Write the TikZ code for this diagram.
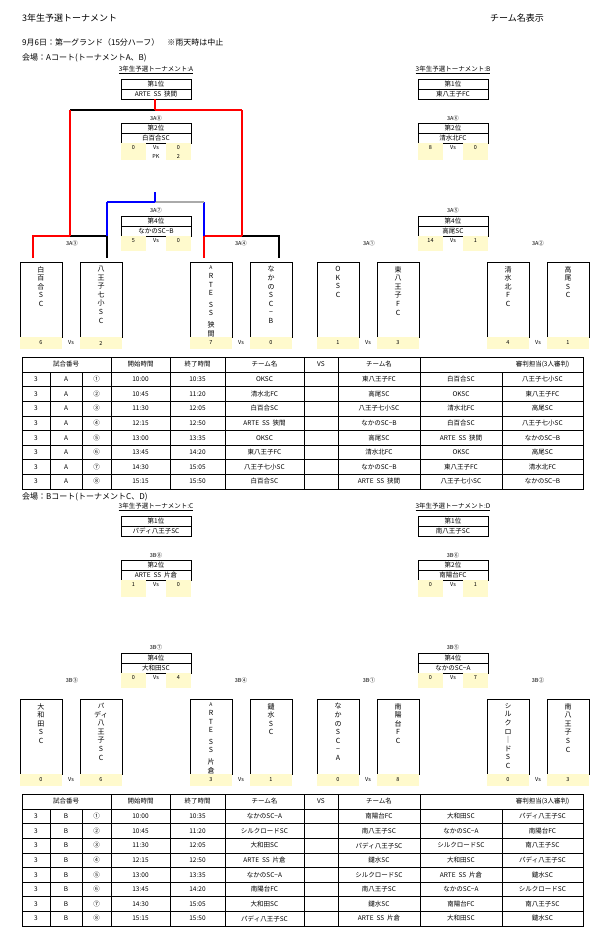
\documentclass[tikz,border=0pt]{standalone}
\usepackage{fontspec}
\setmainfont{Noto Sans CJK JP}
\definecolor{cream}{RGB}{255,250,205}
\definecolor{midgray}{RGB}{170,170,170}
\tikzset{
  wire/.style={line width=2.6pt},
  box/.style={draw, line width=0.6pt},
  txt/.style={font=\fontsize{6.5}{7}\selectfont, inner sep=0pt},
  small/.style={font=\fontsize{5.5}{6}\selectfont, inner sep=0pt},
  vname/.style={font=\fontsize{7}{8.6}\selectfont, align=center, anchor=north, inner sep=0pt},
  head/.style={font=\fontsize{8}{9}\selectfont, anchor=west, inner sep=0pt}
}
% bracket lines: r1a r1b r2a r2b topL topR 3rdL 3rdR
\newcommand\wires[8]{%
  \draw[wire,#1] (33,258) -- (33,236) -- (70,236);
  \draw[wire,#2] (70,236) -- (107,236) -- (107,258);
  \draw[wire,#3] (204,258) -- (204,236) -- (242,236);
  \draw[wire,#4] (242,236) -- (279,236) -- (279,258);
  \draw[wire,blue] (107,236) -- (107,202);
  \draw[wire,blue] (204,236) -- (204,202);
  \draw[wire,#7] (107,202) -- (155,202);
  \draw[wire,#8] (155,202) -- (204,202);
  \draw[wire,blue] (155,192) -- (155,202);
  \draw[wire,#5] (70,110) -- (155,110);
  \draw[wire,#6] (155,110) -- (242,110);
  \draw[wire,red] (70,236) -- (70,110);
  \draw[wire,red] (242,236) -- (242,110);
  \draw[wire,red] (155,99) -- (155,110);
}
\newcommand\rankbox[4]{%
  \draw[box] (121,#2) rectangle (191,#2+20);
  \draw[line width=0.6pt] (121,#2+10) -- (191,#2+10);
  \node[txt] (#1-h) at (156,#2+5) {#3};
  \node[txt] (#1) at (156,#2+15) {#4};
}
\newcommand\cells[5]{%
  \fill[cream] (121,#1) rectangle (146,#1+#2);
  \fill[cream] (166,#1) rectangle (191,#1+#2);
  \node[small] (sl#1) at (133.5,#1+4.5) {#3};
  \node[small] (vs#1) at (156,#1+4.5) {Vs};
  \node[small] (sr#1) at (178.5,#1+4.5) {#4};
}
% title, 1st, 2nd, 2nd scores, 3rd, 4th, 4th scores
\newcommand\ranks[9]{%
  \node[txt] (title) at (156,70) {\underline{#1}};
  \rankbox{r1}{79}{第1位}{#2}
  \rankbox{r2}{123}{第2位}{#3}
  \cells{143}{17}{#4}{#5}
  \rankbox{r3}{172}{第3位}{#6}
  \rankbox{r4}{216}{第4位}{#7}
  \cells{236}{15}{#8}{#9}
}
\newcommand\labels[4]{%
  \node[small] (lt) at (156,118) {#1};
  \node[small] (l3) at (156,210) {#2};
  \node[small] (l1) at (72,243) {#3};
  \node[small] (l2) at (241,243) {#4};
}
\newcommand\team[4]{%
  \draw[box] (#2,262) rectangle (#2+42,337);
  \node[vname] (#1) at (#2+21,266) {#3};
  \fill[cream] (#2,337) rectangle (#2+42,349);
  \node[small] (#1-s) at (#2+21,343) {#4};
}
\newcommand\teams[8]{%
  \team{t1}{20}{#1}{#5}
  \team{t2}{80}{#2}{#6}
  \team{t3}{190}{#3}{#7}
  \team{t4}{250}{#4}{#8}
  \node[small] (vsa) at (71,343) {Vs};
  \node[small] (vsb) at (241,343) {Vs};
}
\newcommand\artes[1]{\fontsize{5}{6.4}\selectfont A\\R\\T\\E\\[3pt]S\\S\\[3pt]\fontsize{7}{8.6}\selectfont #1}
% match table
\newcommand\schedule[2]{%
  \draw[line width=0.7pt] (22,357) rectangle (583,489);
  \foreach \x in {111,170,225,304,338,420}
    \draw[line width=0.6pt] (\x,357) -- (\x,489);
  \foreach \x in {50,82,502}
    \draw[line width=0.6pt] (\x,372) -- (\x,489);
  \foreach \r in {0,...,7}
    \draw[line width=0.6pt] (22,372+14.6*\r) -- (583,372+14.6*\r);
  \node[txt] (h1) at (66,364.5) {試合番号};
  \node[txt] (h2) at (140.5,364.5) {開始時間};
  \node[txt] (h3) at (197.5,364.5) {終了時間};
  \node[txt] (h4) at (264.5,364.5) {チーム名};
  \node[txt] (h5) at (321,364.5) {VS};
  \node[txt] (h6) at (379,364.5) {チーム名};
  \node[txt] (h7) at (542.5,364.5) {審判担当(3人審判)};
  \foreach \no/\st/\en/\ta/\tb/\ra/\rb [count=\i] in {#2} {
    \pgfmathsetmacro\yy{372+14.6*(\i-0.5)}
    \node[txt] at (36,\yy) {3};
    \node[txt] at (66,\yy) {#1};
    \node[txt] at (96.5,\yy) {\no};
    \node[txt] at (140.5,\yy) {\st};
    \node[txt] at (197.5,\yy) {\en};
    \node[txt] at (264.5,\yy) {\ta};
    \node[txt] at (379,\yy) {\tb};
    \node[txt] at (461,\yy) {\ra};
    \node[txt] at (542.5,\yy) {\rb};
  }
}

\begin{document}
\begin{tikzpicture}[x=1pt, y=-1pt]
  \useasboundingbox (0,0) rectangle (610,938);
  \node[head, font=\fontsize{9}{10}\selectfont] (maintitle) at (22,18) {3年生予選トーナメント};
  \node[head, font=\fontsize{9}{10}\selectfont] (showname) at (490,18) {チーム名表示};
  \node[head] (date) at (22,42) {9月6日：第一グランド（15分ハーフ）　※雨天時は中止};
  \node[head] (courtA) at (22,58) {会場：Aコート(トーナメントA、B)};
  \node[head] (courtB) at (22,497) {会場：Bコート(トーナメントC、D)};

  % tournament A
  \begin{scope}[name prefix=A-]
    \ranks{3年生予選トーナメント:A}{ARTE\ \ SS\ \ 狭間}{白百合SC}{0}{0}{八王子七小SC}{なかのSC−B}{5}{0}
    \node[small] (pkl) at (133.5,156.5) {0};
    \node[small] (pk) at (156,156.5) {PK};
    \node[small] (pkr) at (178.5,156.5) {2};
    \wires{red}{black}{red}{black}{black}{red}{blue}{midgray}
    \labels{3A⑧}{3A⑦}{3A③}{3A④}
    \teams{白\\百\\合\\S\\C}{八\\王\\子\\七\\小\\S\\C}{\artes{狭\\間}}{な\\か\\の\\S\\C\\−\\B}{6}{2}{7}{0}
  \end{scope}
  % tournament B
  \begin{scope}[shift={(297,0)}, name prefix=B-]
    \ranks{3年生予選トーナメント:B}{東八王子FC}{清水北FC}{8}{0}{OKSC}{高尾SC}{14}{1}
    \wires{black}{red}{red}{black}{red}{black}{blue}{midgray}
    \labels{3A⑥}{3A⑤}{3A①}{3A②}
    \teams{O\\K\\S\\C}{東\\八\\王\\子\\F\\C}{清\\水\\北\\F\\C}{高\\尾\\S\\C}{1}{3}{4}{1}
  \end{scope}
  % tournament C
  \begin{scope}[shift={(0,437)}, name prefix=C-]
    \ranks{3年生予選トーナメント:C}{パディ八王子SC}{ARTE\ \ SS\ \ 片倉}{1}{0}{鑓水SC}{大和田SC}{0}{4}
    \wires{black}{red}{red}{black}{red}{black}{midgray}{blue}
    \labels{3B⑧}{3B⑦}{3B③}{3B④}
    \teams{大\\和\\田\\S\\C}{\fontsize{6.5}{8.4}\selectfont パ\\ディ\\八\\王\\子\\S\\C}{\artes{片\\倉}}{鑓\\水\\S\\C}{0}{6}{3}{1}
  \end{scope}
  % tournament D
  \begin{scope}[shift={(297,437)}, name prefix=D-]
    \ranks{3年生予選トーナメント:D}{南八王子SC}{南陽台FC}{0}{1}{シルクロードSC}{なかのSC−A}{0}{7}
    \wires{black}{red}{black}{red}{black}{red}{midgray}{blue}
    \labels{3B⑥}{3B⑤}{3B①}{3B②}
    \teams{な\\か\\の\\S\\C\\−\\A}{南\\陽\\台\\F\\C}{\fontsize{6.5}{7.6}\selectfont シ\\ル\\ク\\ロ\\｜\\ド\\S\\C}{南\\八\\王\\子\\S\\C}{0}{8}{0}{3}
  \end{scope}

  % match tables
  \begin{scope}[name prefix=TA-]
    \schedule{A}{①/10:00/10:35/OKSC/東八王子FC/白百合SC/八王子七小SC,
      ②/10:45/11:20/清水北FC/高尾SC/OKSC/東八王子FC,
      ③/11:30/12:05/白百合SC/八王子七小SC/清水北FC/高尾SC,
      ④/12:15/12:50/{ARTE\ \ SS\ \ 狭間}/なかのSC−B/白百合SC/八王子七小SC,
      ⑤/13:00/13:35/OKSC/高尾SC/{ARTE\ \ SS\ \ 狭間}/なかのSC−B,
      ⑥/13:45/14:20/東八王子FC/清水北FC/OKSC/高尾SC,
      ⑦/14:30/15:05/八王子七小SC/なかのSC−B/東八王子FC/清水北FC,
      ⑧/15:15/15:50/白百合SC/{ARTE\ \ SS\ \ 狭間}/八王子七小SC/なかのSC−B}
  \end{scope}
  \begin{scope}[shift={(0,437)}, name prefix=TB-]
    \schedule{B}{①/10:00/10:35/なかのSC−A/南陽台FC/大和田SC/パディ八王子SC,
      ②/10:45/11:20/シルクロードSC/南八王子SC/なかのSC−A/南陽台FC,
      ③/11:30/12:05/大和田SC/パディ八王子SC/シルクロードSC/南八王子SC,
      ④/12:15/12:50/{ARTE\ \ SS\ \ 片倉}/鑓水SC/大和田SC/パディ八王子SC,
      ⑤/13:00/13:35/なかのSC−A/シルクロードSC/{ARTE\ \ SS\ \ 片倉}/鑓水SC,
      ⑥/13:45/14:20/南陽台FC/南八王子SC/なかのSC−A/シルクロードSC,
      ⑦/14:30/15:05/大和田SC/鑓水SC/南陽台FC/南八王子SC,
      ⑧/15:15/15:50/パディ八王子SC/{ARTE\ \ SS\ \ 片倉}/大和田SC/鑓水SC}
  \end{scope}
\end{tikzpicture}
\end{document}
